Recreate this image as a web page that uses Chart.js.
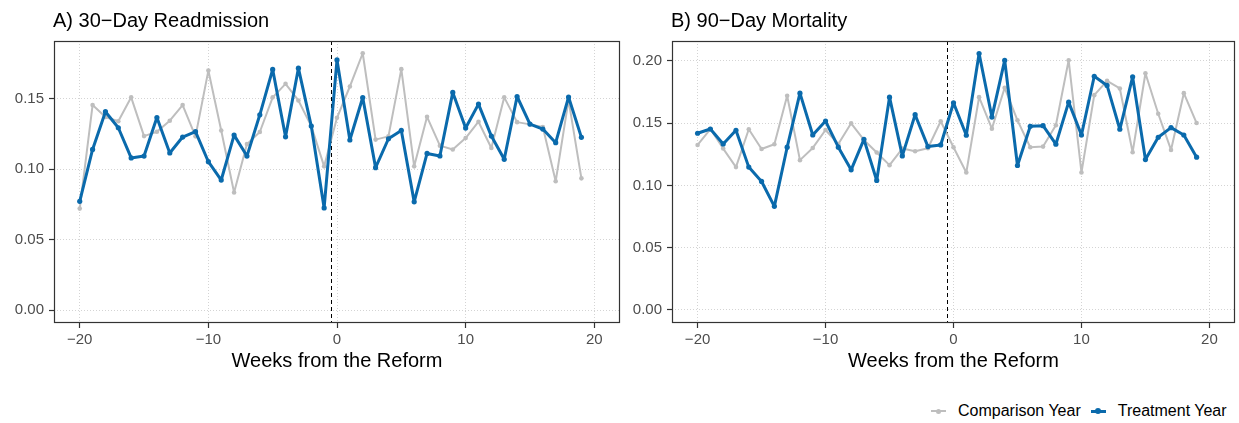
<!DOCTYPE html>
<html lang="en">
<head>
    <meta charset="UTF-8">
    <title>Readmission and Mortality around the Reform</title>
    <script src="https://cdn.jsdelivr.net/npm/chart.js"></script>
    <style>
        body {
            margin: 0;
            padding: 0;
            background-color: #ffffff;
            font-family: "Liberation Sans", Arial, sans-serif;
        }
        .page {
            position: relative;
            width: 1239px;
            height: 423px;
            overflow: hidden;
        }
        #chartA {
            position: absolute;
            left: 0;
            top: 0;
        }
        #chartB {
            position: absolute;
            left: 625px;
            top: 0;
        }
        .legend {
            position: absolute;
            left: 930px;
            top: 401px;
            display: flex;
            align-items: center;
            font-size: 16px;
            color: #000;
            white-space: nowrap;
        }
        .legend-item {
            display: flex;
            align-items: center;
            margin-right: 9px;
        }
        .key {
            position: relative;
            width: 17px;
            height: 20px;
            margin-right: 11px;
        }
        .key .ln {
            position: absolute;
            left: 1px;
            right: 1px;
            top: 50%;
        }
        .key .dot {
            position: absolute;
            left: 50%;
            top: 50%;
            border-radius: 50%;
        }
    </style>
</head>
<body>
<div class="page">
    <canvas id="chartA" width="625" height="385"></canvas>
    <canvas id="chartB" width="614" height="385"></canvas>
    <div class="legend">
        <div class="legend-item">
            <span class="key"><span class="ln" style="height:2px;margin-top:-1px;background:#bebebe"></span><span class="dot" style="width:5px;height:5px;margin:-2.5px 0 0 -2.5px;background:#bebebe"></span></span>
            <span>Comparison Year</span>
        </div>
        <div class="legend-item">
            <span class="key"><span class="ln" style="height:3px;margin-top:-1.5px;background:#0a6aac"></span><span class="dot" style="width:6px;height:6px;margin:-3px 0 0 -3px;background:#0a6aac"></span></span>
            <span>Treatment Year</span>
        </div>
    </div>
</div>

<script>
    // weeks relative to the reform
    const weeks = [-20, -19, -18, -17, -16, -15, -14, -13, -12, -11,
                   -10, -9, -8, -7, -6, -5, -4, -3, -2, -1,
                   0, 1, 2, 3, 4, 5, 6, 7, 8, 9,
                   10, 11, 12, 13, 14, 15, 16, 17, 18, 19];

    // A) 30-day readmission
    const readmitComparison = [0.072, 0.1455, 0.137, 0.134, 0.151, 0.1235, 0.1266, 0.1344, 0.1455, 0.1233,
                               0.170, 0.1275, 0.0834, 0.1178, 0.1264, 0.151, 0.1606, 0.1488, 0.1306, 0.102,
                               0.1365, 0.1587, 0.1823, 0.121, 0.1233, 0.171, 0.102, 0.1372, 0.1167, 0.114,
                               0.1221, 0.1337, 0.115, 0.151, 0.1334, 0.1318, 0.1299, 0.0914, 0.149, 0.0935];
    const readmitTreatment = [0.0772, 0.114, 0.1408, 0.1294, 0.108, 0.1093, 0.1367, 0.1115, 0.1228, 0.1266,
                              0.1053, 0.0923, 0.1242, 0.1093, 0.1386, 0.1708, 0.123, 0.1717, 0.1306, 0.0725,
                              0.1776, 0.1207, 0.1509, 0.1011, 0.1216, 0.1275, 0.0768, 0.1112, 0.1094, 0.1545,
                              0.1292, 0.1462, 0.1235, 0.107, 0.1516, 0.132, 0.1285, 0.1188, 0.1512, 0.1226];

    // B) 90-day mortality
    const mortComparison = [0.1325, 0.1453, 0.1296, 0.1147, 0.1451, 0.1293, 0.1331, 0.172, 0.1203, 0.1301,
                            0.1445, 0.1333, 0.1499, 0.1365, 0.1264, 0.1163, 0.1296, 0.1275, 0.1299, 0.1515,
                            0.1307, 0.1104, 0.1709, 0.1456, 0.1784, 0.1523, 0.1307, 0.1312, 0.1483, 0.2005,
                            0.1104, 0.1725, 0.184, 0.1779, 0.1267, 0.1901, 0.1576, 0.1285, 0.1741, 0.1501];
    const mortTreatment = [0.1419, 0.1453, 0.1333, 0.1443, 0.1147, 0.1032, 0.0832, 0.1307, 0.1741, 0.1405,
                           0.1517, 0.1307, 0.1125, 0.137, 0.104, 0.1709, 0.1237, 0.1568, 0.1312, 0.1325,
                           0.1664, 0.1403, 0.2059, 0.1549, 0.2005, 0.116, 0.1475, 0.148, 0.1331, 0.1669,
                           0.1405, 0.1877, 0.1803, 0.1451, 0.1872, 0.1208, 0.1387, 0.1464, 0.1405, 0.1227];

    const xTicks = [-20, -10, 0, 10, 20];
    const yTicksA = [0, 0.05, 0.10, 0.15];
    const yTicksB = [0, 0.05, 0.10, 0.15, 0.20];
    const reformWeek = -0.5;

    const GREY = "#bebebe";
    const BLUE = "#0a6aac";

    Chart.defaults.font.family = "'Liberation Sans', Arial, sans-serif";
    Chart.defaults.animation = false;

    function pairs(values) {
        return weeks.map((w, i) => ({ x: w, y: values[i] }));
    }

    // panel title, frame and reform line
    const panelPlugin = {
        id: "panel",
        beforeDatasetsDraw(chart) {
            const ctx = chart.ctx;
            const a = chart.chartArea;
            const x = Math.round(chart.scales.x.getPixelForValue(reformWeek)) + 0.5;
            ctx.save();
            ctx.strokeStyle = "#000";
            ctx.lineWidth = 1;
            ctx.setLineDash([4, 3]);
            ctx.beginPath();
            ctx.moveTo(x, a.top);
            ctx.lineTo(x, a.bottom);
            ctx.stroke();
            ctx.restore();
        },
        afterDraw(chart, args, opts) {
            const ctx = chart.ctx;
            const a = chart.chartArea;
            ctx.save();
            ctx.strokeStyle = "#333333";
            ctx.lineWidth = 1.2;
            ctx.strokeRect(a.left + 0.5, a.top + 0.5, a.right - a.left - 1, a.bottom - a.top - 1);
            ctx.fillStyle = "#000";
            ctx.font = "20px 'Liberation Sans', Arial, sans-serif";
            ctx.textBaseline = "alphabetic";
            ctx.textAlign = "left";
            ctx.fillText(opts.title, a.left - 1, 27);
            ctx.restore();
        }
    };

    function makeChart(id, title, comp, treat, yTicks, yMin, yMax, yWidth, padRight) {
        return new Chart(document.getElementById(id), {
            type: "line",
            data: {
                datasets: [
                    {
                        label: "Treatment Year",
                        data: pairs(treat),
                        borderColor: BLUE,
                        backgroundColor: BLUE,
                        borderWidth: 3,
                        borderJoinStyle: "round",
                        borderCapStyle: "round",
                        pointRadius: 2.6,
                        pointBorderWidth: 0,
                        pointBackgroundColor: BLUE,
                        tension: 0,
                        order: 1
                    },
                    {
                        label: "Comparison Year",
                        data: pairs(comp),
                        borderColor: GREY,
                        backgroundColor: GREY,
                        borderWidth: 2,
                        borderJoinStyle: "round",
                        borderCapStyle: "round",
                        pointRadius: 2.3,
                        pointBorderWidth: 0,
                        pointBackgroundColor: GREY,
                        tension: 0,
                        order: 2
                    }
                ]
            },
            options: {
                responsive: false,
                animation: false,
                layout: { padding: { top: 41, right: padRight, left: 0, bottom: 0 } },
                plugins: {
                    legend: { display: false },
                    tooltip: { enabled: false },
                    panel: { title: title }
                },
                scales: {
                    x: {
                        type: "linear",
                        min: -22,
                        max: 22,
                        afterBuildTicks: s => { s.ticks = xTicks.map(v => ({ value: v })); },
                        afterFit: s => { s.height = 62; },
                        ticks: {
                            color: "#4d4d4d",
                            font: { size: 15 },
                            padding: 3,
                            maxRotation: 0,
                            callback: v => String(v).replace("-", "\u2212")
                        },
                        grid: {
                            color: "#d4d4d4",
                            lineWidth: 1,
                            tickColor: "#333333",
                            tickLength: 5,
                            tickWidth: 1.2,
                            tickBorderDash: []
                        },
                        border: { display: false, dash: [1, 2] },
                        title: {
                            display: true,
                            text: "Weeks from the Reform",
                            color: "#000",
                            font: { size: 20 },
                            padding: { top: 0, bottom: 12 }
                        }
                    },
                    y: {
                        type: "linear",
                        min: yMin,
                        max: yMax,
                        afterBuildTicks: s => { s.ticks = yTicks.map(v => ({ value: v })); },
                        afterFit: s => { s.width = yWidth; },
                        ticks: {
                            color: "#4d4d4d",
                            font: { size: 15 },
                            padding: 5,
                            callback: v => v.toFixed(2)
                        },
                        grid: {
                            color: "#d4d4d4",
                            lineWidth: 1,
                            tickColor: "#333333",
                            tickLength: 5,
                            tickWidth: 1.2,
                            tickBorderDash: []
                        },
                        border: { display: false, dash: [1, 2] }
                    }
                }
            },
            plugins: [panelPlugin]
        });
    }

    makeChart("chartA", "A) 30\u2212Day Readmission", readmitComparison, readmitTreatment,
              yTicksA, -0.0092, 0.191, 54, 5);
    makeChart("chartB", "B) 90\u2212Day Mortality", mortComparison, mortTreatment,
              yTicksB, -0.0105, 0.216, 47, 1);
</script>
</body>
</html>
